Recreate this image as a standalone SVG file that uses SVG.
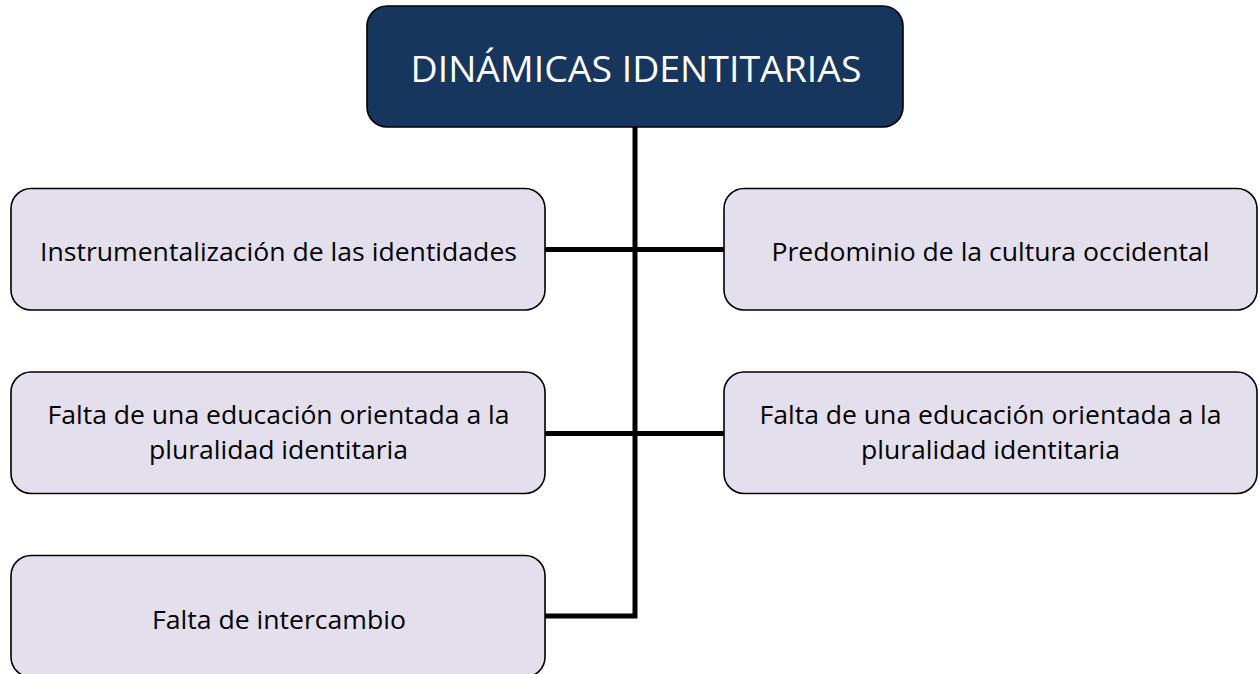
<svg xmlns="http://www.w3.org/2000/svg" width="1259" height="674" viewBox="0 0 1259 674">
<style>
.box{fill:#e4dfec;stroke:#000;stroke-width:1.6}
.top{fill:#17365d;stroke:#000;stroke-width:1.6}
.t{font-family:"Open Sans","Noto Sans",sans-serif;font-size:25px;fill:#000;text-anchor:middle}
.tt{font-family:"Open Sans","Noto Sans",sans-serif;font-size:37px;fill:#fff;text-anchor:middle}
.c{fill:none;stroke:#000;stroke-width:5}
</style>
<rect width="1259" height="674" fill="#fff"/>
<g id="connectors">
<path class="c" d="M635 127V616H545"/>
<path class="c" d="M545 249.5H724"/>
<path class="c" d="M545 433.5H724"/>
</g>
<g id="root">
<rect class="top" x="367" y="6" width="536" height="121" rx="20"/>
<text class="tt" x="636" y="82" textLength="451" lengthAdjust="spacingAndGlyphs">DINÁMICAS IDENTITARIAS</text>
</g>
<g id="n1">
<rect class="box" x="11" y="188.5" width="534" height="121.5" rx="20"/>
<text class="t" x="278.5" y="261" textLength="477" lengthAdjust="spacingAndGlyphs">Instrumentalización de las identidades</text>
</g>
<g id="n2">
<rect class="box" x="724" y="188.5" width="533" height="121.5" rx="20"/>
<text class="t" x="990.5" y="261" textLength="438" lengthAdjust="spacingAndGlyphs">Predominio de la cultura occidental</text>
</g>
<g id="n3">
<rect class="box" x="11" y="372" width="534" height="121.5" rx="20"/>
<text class="t" x="278.5" y="423.5" textLength="462" lengthAdjust="spacingAndGlyphs">Falta de una educación orientada a la</text>
<text class="t" x="278.5" y="458.5" textLength="259" lengthAdjust="spacingAndGlyphs">pluralidad identitaria</text>
</g>
<g id="n4">
<rect class="box" x="724" y="372" width="533" height="121.5" rx="20"/>
<text class="t" x="990.5" y="423.5" textLength="462" lengthAdjust="spacingAndGlyphs">Falta de una educación orientada a la</text>
<text class="t" x="990.5" y="458.5" textLength="259" lengthAdjust="spacingAndGlyphs">pluralidad identitaria</text>
</g>
<g id="n5">
<rect class="box" x="11" y="555.5" width="534" height="121.5" rx="20"/>
<text class="t" x="279" y="628.5" textLength="254" lengthAdjust="spacingAndGlyphs">Falta de intercambio</text>
</g>
</svg>
